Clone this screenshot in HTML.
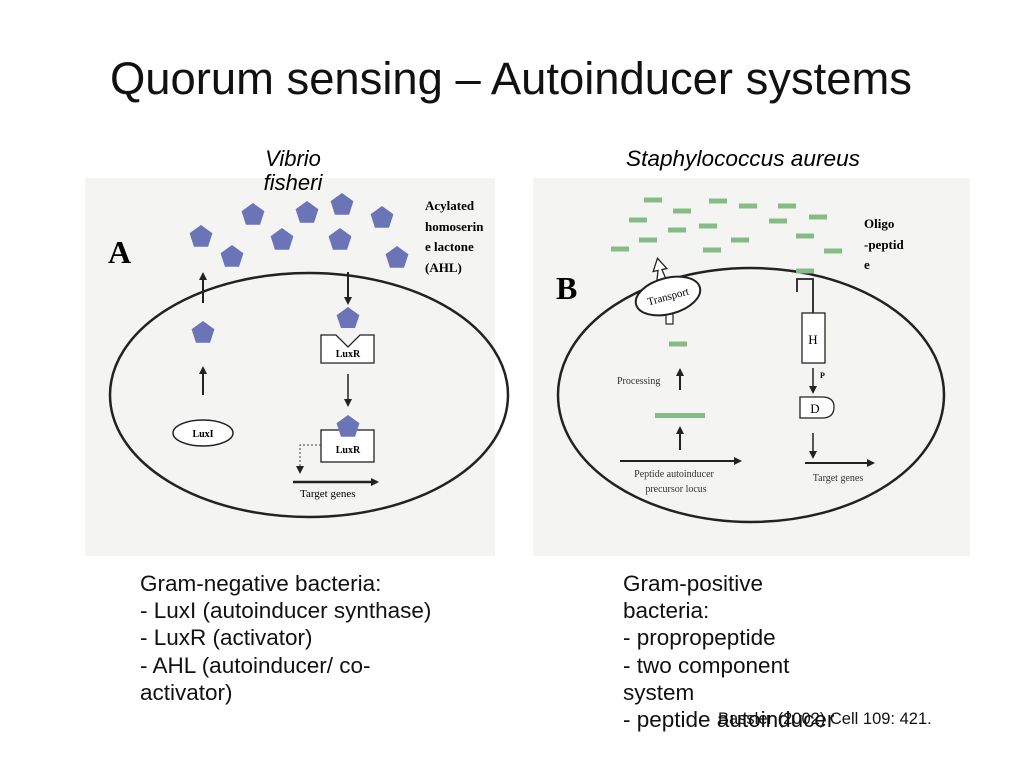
<!DOCTYPE html>
<html><head><meta charset="utf-8"><style>
body{margin:0;background:#fff;}
svg{display:block;}
.t{font-family:"Liberation Sans",sans-serif;}
.s{font-family:"Liberation Serif",serif;}
</style></head><body>
<svg width="1024" height="768" xmlns="http://www.w3.org/2000/svg">
<defs>
<polygon id="p" points="0,-12 11.4,-3.7 7.05,9.7 -7.05,9.7 -11.4,-3.7" fill="#6b74b6"/>
<rect id="g" x="-9" y="-2.5" width="18" height="5" fill="#86bb86"/>
<marker id="a" markerWidth="8" markerHeight="8" refX="6" refY="4" orient="auto" markerUnits="userSpaceOnUse"><path d="M0,0 L8,4 L0,8 z" fill="#222"/></marker>
</defs>
<text x="511" y="94" class="t" font-size="45" text-anchor="middle" fill="#111" textLength="802" lengthAdjust="spacingAndGlyphs">Quorum sensing – Autoinducer systems</text>

<!-- Panel A -->
<rect x="85" y="178" width="410" height="378" fill="#f4f4f2"/>
<text x="293" y="166" class="t" font-size="22" font-style="italic" text-anchor="middle">Vibrio</text>
<text x="293" y="190" class="t" font-size="22" font-style="italic" text-anchor="middle">fisheri</text>
<text x="108" y="263" class="s" font-size="32" font-weight="bold">A</text>
<ellipse cx="309" cy="395" rx="199" ry="122" fill="none" stroke="#222" stroke-width="2.5"/>
<use href="#p" x="201" y="237"/><use href="#p" x="253" y="215"/><use href="#p" x="307" y="213"/>
<use href="#p" x="342" y="205"/><use href="#p" x="382" y="218"/><use href="#p" x="232" y="257"/>
<use href="#p" x="282" y="240"/><use href="#p" x="340" y="240"/><use href="#p" x="397" y="258"/>
<use href="#p" x="203" y="333"/>
<line x1="203" y1="303" x2="203" y2="274" stroke="#222" stroke-width="2" marker-end="url(#a)"/>
<line x1="203" y1="395" x2="203" y2="368" stroke="#222" stroke-width="2" marker-end="url(#a)"/>
<ellipse cx="203" cy="433" rx="30" ry="13" fill="#fff" stroke="#222" stroke-width="1.5"/>
<text x="203" y="437" class="s" font-size="10" font-weight="bold" text-anchor="middle">LuxI</text>
<line x1="348" y1="272" x2="348" y2="303" stroke="#222" stroke-width="2" marker-end="url(#a)"/>
<path d="M321,335 H336 L348,347 L360,335 H374 V363 H321 Z" fill="#fff" stroke="#222" stroke-width="1.3"/>
<polygon points="348,307 359.4,315.3 355,328 341,328 336.6,315.3" fill="#6b74b6"/>
<text x="348" y="357" class="s" font-size="10" font-weight="bold" text-anchor="middle">LuxR</text>
<line x1="348" y1="374" x2="348" y2="405" stroke="#222" stroke-width="1.5" marker-end="url(#a)"/>
<rect x="321" y="430" width="53" height="32" fill="#fff" stroke="#222" stroke-width="1.3"/>
<use href="#p" x="348" y="427"/>
<text x="348" y="453" class="s" font-size="10" font-weight="bold" text-anchor="middle">LuxR</text>
<path d="M321,445 H300 V472" fill="none" stroke="#444" stroke-width="1" stroke-dasharray="2,2" marker-end="url(#a)"/>
<line x1="293" y1="482" x2="377" y2="482" stroke="#222" stroke-width="2.5" marker-end="url(#a)"/>
<text x="300" y="497" class="s" font-size="11">Target genes</text>
<text class="s" font-size="13" font-weight="bold"><tspan x="425" y="210">Acylated</tspan><tspan x="425" y="231">homoserin</tspan><tspan x="425" y="251">e lactone</tspan><tspan x="425" y="272">(AHL)</tspan></text>

<!-- Panel B -->
<rect x="533" y="178" width="437" height="378" fill="#f4f4f2"/>
<text x="743" y="166" class="t" font-size="22" font-style="italic" text-anchor="middle" textLength="234" lengthAdjust="spacingAndGlyphs">Staphylococcus aureus</text>
<text x="556" y="299" class="s" font-size="32" font-weight="bold">B</text>
<ellipse cx="751" cy="395" rx="193" ry="127" fill="none" stroke="#222" stroke-width="2.5"/>
<use href="#g" x="653" y="200"/><use href="#g" x="718" y="201"/><use href="#g" x="682" y="211"/>
<use href="#g" x="748" y="206"/><use href="#g" x="787" y="206"/><use href="#g" x="638" y="220"/>
<use href="#g" x="708" y="226"/><use href="#g" x="677" y="230"/><use href="#g" x="778" y="221"/>
<use href="#g" x="818" y="217"/><use href="#g" x="648" y="240"/><use href="#g" x="740" y="240"/>
<use href="#g" x="805" y="236"/><use href="#g" x="620" y="249"/><use href="#g" x="712" y="250"/>
<use href="#g" x="833" y="251"/><use href="#g" x="805" y="271"/><use href="#g" x="678" y="344"/>
<rect x="655" y="413" width="50" height="5" fill="#86bb86"/>
<path d="M654,282 L658,270 L653,270 L660,258 L667,270 L662,270 L664,280" fill="#fff" stroke="#222" stroke-width="1.3" transform="rotate(-12 660 270)"/>
<rect x="666" y="312" width="7" height="12" fill="#fff" stroke="#222" stroke-width="1.2"/>
<ellipse cx="668" cy="296" rx="33" ry="18" fill="#fff" stroke="#222" stroke-width="2" transform="rotate(-15 668 296)"/>
<text x="668" y="300" class="s" font-size="11" text-anchor="middle" transform="rotate(-15 668 296)">Transport</text>
<path d="M797,292 V279 H813 V313" fill="none" stroke="#222" stroke-width="1.8"/>
<rect x="802" y="313" width="23" height="50" fill="#fff" stroke="#222" stroke-width="1.3"/>
<text x="813" y="344" class="s" font-size="13" text-anchor="middle">H</text>
<line x1="813" y1="368" x2="813" y2="392" stroke="#222" stroke-width="1.5" marker-end="url(#a)"/>
<text x="820" y="378" class="s" font-size="8" font-weight="bold">P</text>
<path d="M800,397 H822 Q834,397 834,407 Q834,418 822,418 H800 Z" fill="#fff" stroke="#222" stroke-width="1.3"/>
<text x="815" y="413" class="s" font-size="13" text-anchor="middle">D</text>
<line x1="813" y1="433" x2="813" y2="457" stroke="#222" stroke-width="1.5" marker-end="url(#a)"/>
<line x1="805" y1="463" x2="873" y2="463" stroke="#222" stroke-width="2" marker-end="url(#a)"/>
<text x="838" y="481" class="s" font-size="10" text-anchor="middle" fill="#333">Target genes</text>
<text x="617" y="384" class="s" font-size="10" fill="#333">Processing</text>
<line x1="680" y1="390" x2="680" y2="370" stroke="#222" stroke-width="2" marker-end="url(#a)"/>
<line x1="680" y1="450" x2="680" y2="428" stroke="#222" stroke-width="2" marker-end="url(#a)"/>
<line x1="620" y1="461" x2="740" y2="461" stroke="#222" stroke-width="2" marker-end="url(#a)"/>
<text x="674" y="477" class="s" font-size="10" text-anchor="middle" fill="#333">Peptide autoinducer</text>
<text x="676" y="492" class="s" font-size="10" text-anchor="middle" fill="#333">precursor locus</text>
<text class="s" font-size="13" font-weight="bold"><tspan x="864" y="228">Oligo</tspan><tspan x="864" y="249">-peptid</tspan><tspan x="864" y="269">e</tspan></text>

<!-- bottom text -->
<text class="t" font-size="22.5" fill="#111"><tspan x="140" y="591">Gram-negative bacteria:</tspan><tspan x="140" y="618">- LuxI (autoinducer synthase)</tspan><tspan x="140" y="645">- LuxR (activator)</tspan><tspan x="140" y="673">- AHL (autoinducer/ co-</tspan><tspan x="140" y="700">activator)</tspan></text>
<text class="t" font-size="22.5" fill="#111"><tspan x="623" y="591">Gram-positive</tspan><tspan x="623" y="618">bacteria:</tspan><tspan x="623" y="645">- propropeptide</tspan><tspan x="623" y="673">- two component</tspan><tspan x="623" y="700">system</tspan><tspan x="623" y="727">- peptide autoinducer</tspan></text>
<text x="718" y="724" class="t" font-size="16.5" fill="#111">Bassler (2002) Cell 109: 421.</text>
</svg>
</body></html>
